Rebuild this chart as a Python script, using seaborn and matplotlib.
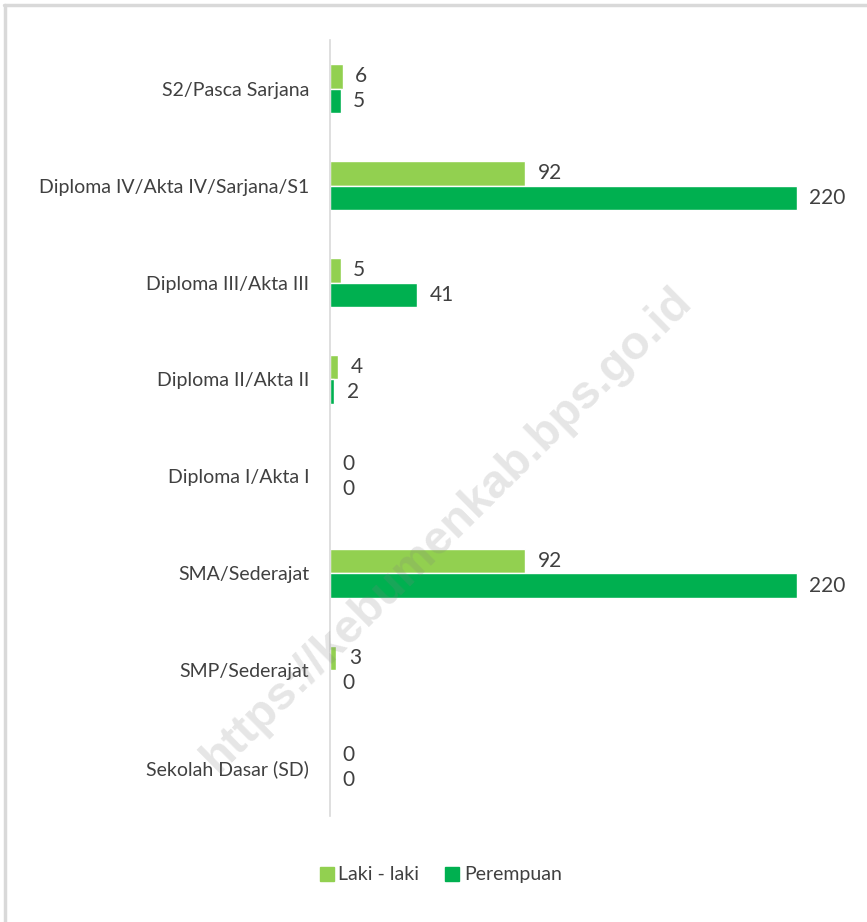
import matplotlib
matplotlib.use("Agg")
import matplotlib.pyplot as plt
import pandas as pd
import seaborn as sns
from matplotlib.lines import Line2D

# ── Data ──────────────────────────────────────────────────────────────────────
categories = [
    "S2/Pasca Sarjana",
    "Diploma IV/Akta IV/Sarjana/S1",
    "Diploma III/Akta III",
    "Diploma II/Akta II",
    "Diploma I/Akta I",
    "SMA/Sederajat",
    "SMP/Sederajat",
    "Sekolah Dasar (SD)",
]
laki_laki = [6, 92, 5, 4, 0, 92, 3, 0]
perempuan = [5, 220, 41, 2, 0, 220, 0, 0]
series_names = ["Laki - laki", "Perempuan"]
colors = ["#92d050", "#00b050"]
watermark = "https://kebumenkab.bps.go.id"

df = pd.DataFrame({
    "kategori": categories * 2,
    "jumlah": laki_laki + perempuan,
    "jenis": [series_names[0]] * len(categories) + [series_names[1]] * len(categories),
})

# ── Figure ────────────────────────────────────────────────────────────────────
sns.set_style("white")
plt.rcParams["font.family"] = ["Lato", "DejaVu Sans"]
text_color = "#404040"

fig = plt.figure(figsize=(8.67, 9.22), dpi=100)
ax = fig.add_axes([0.3806, 0.115, 0.612, 0.8416])

sns.barplot(
    data=df, y="kategori", x="jumlah", hue="jenis",
    order=categories, hue_order=series_names, palette=colors,
    orient="h", width=0.5, gap=0, saturation=1, errorbar=None,
    legend=False, ax=ax,
)

ax.set_xlim(0, 250)
ax.set_xlabel("")
ax.set_ylabel("")
ax.set_xticks([])
ax.tick_params(axis="y", length=0, pad=15, labelsize=14, labelcolor=text_color)
for side in ["top", "right", "bottom"]:
    ax.spines[side].set_visible(False)
ax.spines["left"].set_color("#d9d9d9")
ax.spines["left"].set_linewidth(1.2)

# value labels at the end of each bar
for container in ax.containers:
    ax.bar_label(container, fmt="%d", padding=9, fontsize=15, color=text_color)

# legend
handles = [
    Line2D([], [], marker="s", linestyle="", markersize=10, color=c, label=n)
    for c, n in zip(colors, series_names)
]
fig.legend(
    handles=handles, loc="center", bbox_to_anchor=(0.508, 0.051), ncol=2,
    frameon=False, fontsize=14, handlelength=0.8, handletextpad=0.2,
    columnspacing=1.3, labelcolor=text_color,
)

# watermark
fig.text(
    0.516, 0.425, watermark, rotation=44.7, ha="center", va="center",
    fontsize=34, fontweight="bold", family="Liberation Sans",
    color="#808080", alpha=0.2, zorder=10,
)

# light frame on top and left
fig.add_artist(Line2D([0.005, 1.0], [0.995, 0.995], color="#d9d9d9", lw=2.5,
                      transform=fig.transFigure))
fig.add_artist(Line2D([0.006, 0.006], [0.0, 0.995], color="#d9d9d9", lw=2.5,
                      transform=fig.transFigure))

fig.savefig("out.png", dpi=100)
